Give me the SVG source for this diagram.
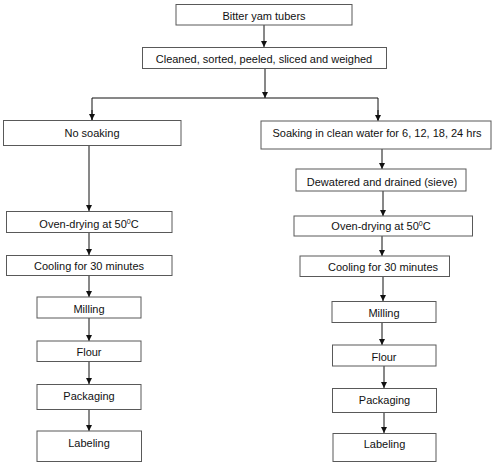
<svg xmlns="http://www.w3.org/2000/svg" width="500" height="465" viewBox="0 0 500 465">
<style>
.box{fill:#fff;stroke:#595959;stroke-width:1}
.t{font-family:"Liberation Sans",Arial,sans-serif;font-size:11px;fill:#111;text-anchor:middle}
.sup{font-size:7px}
.c{fill:none;stroke:#111;stroke-width:1}
</style>
<defs>
<marker id="ah" markerUnits="userSpaceOnUse" markerWidth="7" markerHeight="7" refX="6" refY="3" orient="auto">
<path d="M0,0 L6,3 L0,6 z" fill="#111"/>
</marker>
</defs>
<rect width="500" height="465" fill="#fff"/>
<g id="connectors">
<line class="c" x1="264" y1="25" x2="264" y2="47" marker-end="url(#ah)"/>
<line class="c" x1="265" y1="68" x2="265" y2="98" marker-end="url(#ah)"/>
<polyline class="c" points="92,120 92,98 378,98 378,120"/>
<line class="c" x1="92" y1="110" x2="92" y2="120" marker-end="url(#ah)"/>
<line class="c" x1="378" y1="110" x2="378" y2="121" marker-end="url(#ah)"/>
<line class="c" x1="89" y1="145" x2="89" y2="211" marker-end="url(#ah)"/>
<line class="c" x1="89" y1="232" x2="89" y2="255" marker-end="url(#ah)"/>
<line class="c" x1="89" y1="275" x2="89" y2="297" marker-end="url(#ah)"/>
<line class="c" x1="89" y1="318" x2="89" y2="341" marker-end="url(#ah)"/>
<line class="c" x1="89" y1="361" x2="89" y2="384" marker-end="url(#ah)"/>
<line class="c" x1="89" y1="409" x2="89" y2="431" marker-end="url(#ah)"/>
<line class="c" x1="382" y1="149" x2="382" y2="169" marker-end="url(#ah)"/>
<line class="c" x1="383" y1="191" x2="383" y2="216" marker-end="url(#ah)"/>
<line class="c" x1="382" y1="236" x2="382" y2="256" marker-end="url(#ah)"/>
<line class="c" x1="383" y1="276" x2="383" y2="301" marker-end="url(#ah)"/>
<line class="c" x1="382" y1="323" x2="382" y2="345" marker-end="url(#ah)"/>
<line class="c" x1="384" y1="366" x2="384" y2="388" marker-end="url(#ah)"/>
<line class="c" x1="384" y1="412" x2="384" y2="433" marker-end="url(#ah)"/>
</g>
<g id="n-bitter"><rect class="box" x="176" y="4.5" width="176" height="20.5"/><text class="t" x="264" y="20">Bitter yam tubers</text></g>
<g id="n-cleaned"><rect class="box" x="142.5" y="47.5" width="244" height="21"/><text class="t" x="264" y="63">Cleaned, sorted, peeled, sliced and weighed</text></g>
<g id="n-nosoak"><rect class="box" x="3.5" y="120.5" width="177.5" height="25"/><text class="t" x="92" y="136.5">No soaking</text></g>
<g id="n-oven-l"><rect class="box" x="6.5" y="211.5" width="165.5" height="21"/><text class="t" x="89" y="227.5">Oven-drying at 50<tspan class="sup" dy="-4">0</tspan><tspan dy="4">C</tspan></text></g>
<g id="n-cool-l"><rect class="box" x="6.5" y="255.5" width="165.5" height="20"/><text class="t" x="89" y="270">Cooling for 30 minutes</text></g>
<g id="n-mill-l"><rect class="box" x="37" y="297" width="104" height="21"/><text class="t" x="89" y="312.5">Milling</text></g>
<g id="n-flour-l"><rect class="box" x="37" y="341" width="104" height="20.5"/><text class="t" x="89" y="356">Flour</text></g>
<g id="n-pack-l"><rect class="box" x="37" y="384.5" width="104" height="25"/><text class="t" x="89" y="399.5">Packaging</text></g>
<g id="n-label-l"><rect class="box" x="37" y="431" width="104.5" height="30.5"/><text class="t" x="89" y="446.5">Labeling</text></g>
<g id="n-soak"><rect class="box" x="261" y="121" width="230" height="28"/><text class="t" x="377" y="136.5">Soaking in clean water for 6, 12, 18, 24 hrs</text></g>
<g id="n-dewater"><rect class="box" x="296" y="169" width="170" height="22"/><text class="t" x="382" y="186">Dewatered and drained (sieve)</text></g>
<g id="n-oven-r"><rect class="box" x="294" y="216" width="178.5" height="20"/><text class="t" x="381" y="229.5">Oven-drying at 50<tspan class="sup" dy="-4">0</tspan><tspan dy="4">C</tspan></text></g>
<g id="n-cool-r"><rect class="box" x="300" y="256" width="149.5" height="20.5"/><text class="t" x="383" y="271">Cooling for 30 minutes</text></g>
<g id="n-mill-r"><rect class="box" x="332" y="301.5" width="104" height="21"/><text class="t" x="384" y="317">Milling</text></g>
<g id="n-flour-r"><rect class="box" x="332.5" y="345" width="103.5" height="21"/><text class="t" x="384" y="361">Flour</text></g>
<g id="n-pack-r"><rect class="box" x="332.5" y="388.5" width="104" height="24"/><text class="t" x="384.5" y="404">Packaging</text></g>
<g id="n-label-r"><rect class="box" x="333" y="433.5" width="103" height="28"/><text class="t" x="384.5" y="448">Labeling</text></g>
</svg>
